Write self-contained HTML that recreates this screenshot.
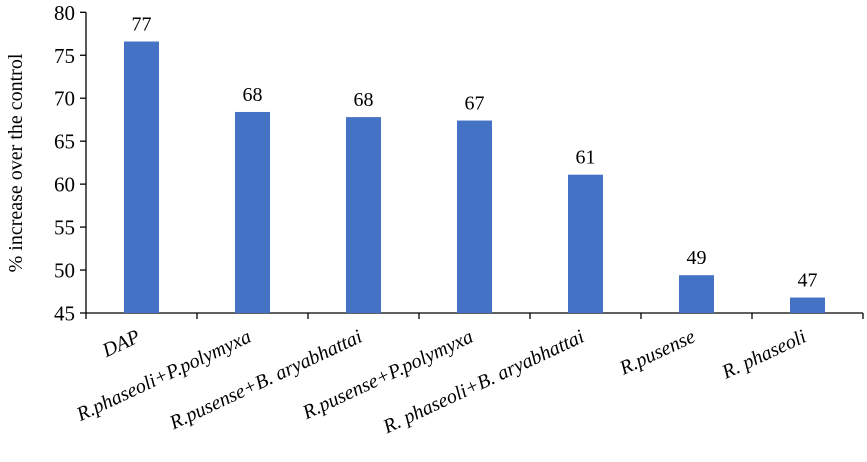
<!DOCTYPE html>
<html><head><meta charset="utf-8"><style>
body{margin:0;background:#fff;}
svg{display:block;font-family:"Liberation Serif",serif;}
</style></head><body>
<svg width="867" height="462" viewBox="0 0 867 462">
<g id="chart"></g>
</svg>
<script>
const categories=["DAP","R.phaseoli+P.polymyxa","R.pusense+B. aryabhattai","R.pusense+P.polymyxa","R. phaseoli+B. aryabhattai","R.pusense","R. phaseoli"];
const values=[76.6,68.4,67.8,67.4,61.1,49.4,46.8];
const valueLabels=["77","68","68","67","61","49","47"];
const yTicks=[45,50,55,60,65,70,75,80];
const NS="http://www.w3.org/2000/svg";
const g=document.getElementById('chart');
const x0=86,x1=863,yTop=12.3,yBot=313,yMin=45,yMax=80;
const bw=(x1-x0)/categories.length;
function yS(v){return yBot-(v-yMin)/(yMax-yMin)*(yBot-yTop);}
function xC(i){return x0+bw*(i+0.5);}
function mk(t,a,parent){const e=document.createElementNS(NS,t);for(const k in a)e.setAttribute(k,a[k]);(parent||g).appendChild(e);return e;}
// y axis
const ya=mk('line',{x1:x0,y1:yTop,x2:x0,y2:yBot,stroke:'#000','stroke-width':1.3});


yTicks.forEach(v=>{
 const t=mk('line',{x1:x0-6,y1:yS(v),x2:x0,y2:yS(v),stroke:'#000','stroke-width':1.3});
 
 
 const l=mk('text',{x:x0-11,y:yS(v)+7.5,'text-anchor':'end','font-size':21});
 l.textContent=v;
 
 
});
const xa=mk('line',{x1:x0,y1:yBot,x2:x1,y2:yBot,stroke:'#000','stroke-width':1.3});


for(let i=0;i<=categories.length;i++){
 const t=mk('line',{x1:x0+bw*i,y1:yBot,x2:x0+bw*i,y2:yBot+6,stroke:'#000','stroke-width':1.3});
 
 
}
const yt=mk('text',{transform:'translate(22,163) rotate(-90)','text-anchor':'middle','font-size':20});
yt.textContent='% increase over the control';


categories.forEach((c,i)=>{
 const cx=xC(i),w=35;
 const r=mk('rect',{x:cx-w/2,y:yS(values[i]),width:w,height:yBot-yS(values[i]),fill:'#4472C4'});
 
 
 const vl=mk('text',{x:cx,y:yS(values[i])-11,'text-anchor':'middle','font-size':20});
 vl.textContent=valueLabels[i];
 
 
 const cl=mk('text',{transform:`translate(${cx},341) rotate(-25)`,'text-anchor':'end','font-size':20,'font-style':'italic'});
 cl.textContent=c;
 
 
});
</script>
</body></html>
